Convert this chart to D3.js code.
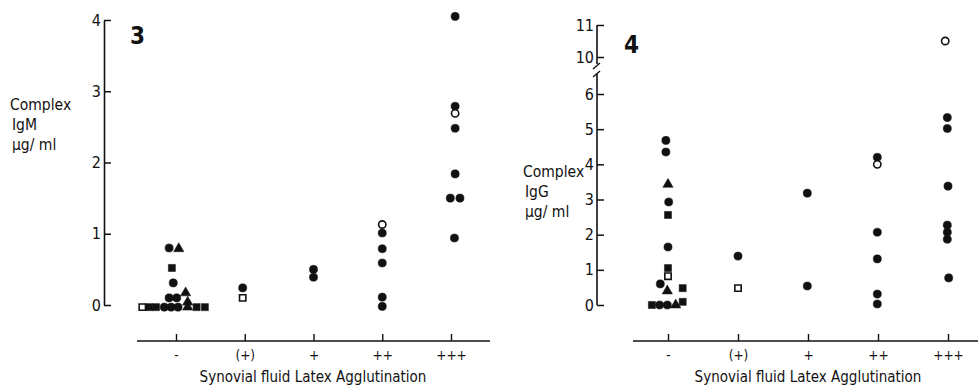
<!DOCTYPE html>
<html><head><meta charset="utf-8">
<script src="https://cdn.jsdelivr.net/npm/d3@7/dist/d3.min.js"></script>
<style>
html,body{margin:0;padding:0;background:#fff;}
svg{display:block;}
text{font-family:"Liberation Sans Narrow","DejaVu Sans Condensed","Liberation Sans",sans-serif;fill:#111;}
</style></head>
<body>
<svg id="chart" width="978" height="386"></svg>
<script>
// ---------- data ----------
const categories = ["-", "(+)", "+", "++", "+++"];
const xTitle = "Synovial fluid Latex Agglutination";

// Panel 3: IgM (category index, value µg/ml, marker, filled, jitter in category steps)
const igmCat   = [0,0,0,0,0,0,0,0, 0,0,0,0,0,0,0,0,0, 1,1, 2,2, 3,3,3,3,3,3, 4,4,4,4,4,4,4,4];
const igmVal   = [0.80,0.79,0.52,0.31,0.10,0.10,0.17,0.04, -0.03,-0.03,-0.03,-0.03,-0.03,-0.03,-0.03,-0.03,-0.03,
                  0.24,0.10, 0.50,0.39, 1.13,1.01,0.79,0.59,0.11,-0.02, 4.05,2.79,2.69,2.48,1.84,1.50,1.50,0.94];
const igmShape = ["circle","triangle","square","circle","circle","circle","triangle","triangle",
                  "square","square","square","circle","circle","circle","triangle","square","square",
                  "circle","square", "circle","circle", "circle","circle","circle","circle","circle","circle",
                  "circle","circle","circle","circle","circle","circle","circle","circle"];
const igmFill  = [1,1,1,1,1,1,1,1, 0,1,1,1,1,1,1,1,1, 1,0, 1,1, 0,1,1,1,1,1, 1,1,0,1,1,1,1,1];
const igmDx    = [-0.10,0.04,-0.06,-0.04,-0.10,0.01,0.14,0.17,
                  -0.49,-0.39,-0.29,-0.17,-0.07,0.03,0.17,0.30,0.42,
                  -0.03,-0.03, 0,0, 0,0,0,0,0,0, 0.06,0.06,0.06,0.06,0.06,-0.01,0.13,0.05];

// Panel 4: IgG
const iggCat   = [0,0,0,0,0,0,0,0,0,0,0,0, 0,0,0,0, 1,1, 2,2, 3,3,3,3,3,3, 4,4,4,4,4,4,4,4];
const iggVal   = [4.68,4.35,3.43,2.93,2.56,1.65,1.05,0.82,0.60,0.40,0.48,0.09,
                  0.0,0.0,0.0,0.0, 1.39,0.48, 3.18,0.54, 4.20,4.00,2.07,1.31,0.31,0.03,
                  10.5,5.33,5.02,3.38,2.27,2.07,1.87,0.77];
const iggShape = ["circle","circle","triangle","circle","square","circle","square","square","circle","triangle","square","square",
                  "square","circle","circle","triangle", "circle","square", "circle","circle",
                  "circle","circle","circle","circle","circle","circle",
                  "circle","circle","circle","circle","circle","circle","circle","circle"];
const iggFill  = [1,1,1,1,1,1,1,0,1,1,1,1, 1,1,1,1, 1,0, 1,1, 1,0,1,1,1,1, 0,1,1,1,1,1,1,1];
const iggDx    = [-0.03,-0.03,0,0.01,0,0,0,0,-0.11,-0.01,0.21,0.21,
                  -0.23,-0.12,-0.01,0.11, 0,0, -0.01,-0.01, -0.01,-0.01,-0.01,-0.01,-0.01,-0.01,
                  -0.04,-0.01,-0.01,0,-0.01,-0.01,-0.01,0.01];

const igmTicks = [0,1,2,3,4];
const iggTicksLow = [0,1,2,3,4,5,6];
const iggTicksHigh = [10,11];

// ---------- drawing ----------
const svg = d3.select("#chart");
svg.append("rect").attr("width",978).attr("height",386).attr("fill","#fff");

const symbolType = {circle:d3.symbolCircle, square:d3.symbolSquare, triangle:d3.symbolTriangle};
const symbolSize = {circle:52, square:50, triangle:46};

function drawPoints(g, x, yFn, cat, val, shape, fill, dx) {
  const step = x.step();
  const pts = cat.map((c,i)=>({c, v:val[i], s:shape[i], f:fill[i], dx:dx[i]}));
  g.selectAll("path.pt").data(pts).join("path")
    .attr("class","pt")
    .attr("transform", d => `translate(${x(categories[d.c]) + d.dx*step},${yFn(d.v)})`)
    .attr("d", d => d3.symbol().type(symbolType[d.s]).size(d.f ? symbolSize[d.s] : symbolSize[d.s]*0.8)())
    .attr("fill", d => d.f ? "#111" : "#fff")
    .attr("stroke", "#111")
    .attr("stroke-width", d => d.f ? 0.5 : 1.6);
}

function drawXAxis(g, x, lineX0, lineX1, yPos) {
  g.append("line").attr("x1",lineX0).attr("x2",lineX1).attr("y1",yPos).attr("y2",yPos)
    .attr("stroke","#111").attr("stroke-width",1.6);
  const ax = g.append("g").attr("transform",`translate(0,${yPos})`)
    .call(d3.axisBottom(x).tickSize(-7).tickPadding(9));
  ax.select(".domain").remove();
  ax.selectAll(".tick line").attr("stroke","#111").attr("stroke-width",1.4);
  ax.selectAll(".tick text").attr("font-size",13.5).attr("font-family",null).attr("fill","#111");
}

function styleY(ax) {
  ax.selectAll(".tick line").attr("stroke","#111").attr("stroke-width",1.5);
  ax.selectAll(".tick text").attr("font-size",16).attr("font-family",null).attr("fill","#111");
}

// ----- Panel 3 -----
const x3 = d3.scalePoint().domain(categories).range([176, 451]);
const y3 = d3.scaleLinear().domain([0,4]).range([305, 20]);
const g3 = svg.append("g");
const ay3 = g3.append("g").attr("transform","translate(104,0)")
  .call(d3.axisLeft(y3).tickValues(igmTicks).tickFormat(d3.format("d")).tickSize(-7).tickSizeOuter(0).tickPadding(3));
ay3.select(".domain").attr("stroke","#111").attr("stroke-width",1.6);
styleY(ay3);
drawXAxis(g3, x3, 137, 490, 341);
drawPoints(g3, x3, y3, igmCat, igmVal, igmShape, igmFill, igmDx);
g3.append("text").attr("x",130).attr("y",44).attr("font-size",24).attr("font-weight","bold")
  .attr("font-family","Liberation Sans, Arial, sans-serif").text("3");
const lab3 = g3.append("text").attr("font-size",15.5);
["Complex","IgM","\u00b5g/ ml"].forEach((t,i)=>lab3.append("tspan").attr("x",i===0?10:12).attr("y",110+i*20).text(t));
g3.append("text").attr("x",313).attr("y",382).attr("text-anchor","middle").attr("font-size",15).text(xTitle);

// ----- Panel 4 -----
const x4 = d3.scalePoint().domain(categories).range([668, 948]);
const y4 = d3.scaleLinear().domain([0,6]).range([305, 94]);
const y4u = d3.scaleLinear().domain([10,11]).range([57, 25]);
const yBroken = v => v >= 8 ? y4u(v) : y4(v);
const g4 = svg.append("g");
const ay4 = g4.append("g").attr("transform","translate(597,0)")
  .call(d3.axisLeft(y4).tickValues(iggTicksLow).tickFormat(d3.format("d")).tickSize(-7).tickSizeOuter(0).tickPadding(3));
ay4.select(".domain").remove();
styleY(ay4);
const ay4u = g4.append("g").attr("transform","translate(597,0)")
  .call(d3.axisLeft(y4u).tickValues(iggTicksHigh).tickFormat(d3.format("d")).tickSize(-7).tickSizeOuter(0).tickPadding(3));
ay4u.select(".domain").remove();
styleY(ay4u);
// broken axis line
g4.append("line").attr("x1",597).attr("x2",597).attr("y1",y4(0)).attr("y2",74).attr("stroke","#111").attr("stroke-width",1.6);
g4.append("line").attr("x1",597).attr("x2",597).attr("y1",y4u(11)).attr("y2",64).attr("stroke","#111").attr("stroke-width",1.6);
g4.append("line").attr("x1",593).attr("x2",600).attr("y1",77).attr("y2",71).attr("stroke","#111").attr("stroke-width",1.4);
g4.append("line").attr("x1",593).attr("x2",600).attr("y1",69).attr("y2",63).attr("stroke","#111").attr("stroke-width",1.4);
drawXAxis(g4, x4, 633, 978, 341);
drawPoints(g4, x4, yBroken, iggCat, iggVal, iggShape, iggFill, iggDx);
g4.append("text").attr("x",624).attr("y",53).attr("font-size",24).attr("font-weight","bold")
  .attr("font-family","Liberation Sans, Arial, sans-serif").text("4");
const lab4 = g4.append("text").attr("font-size",15.5);
["Complex","IgG","\u00b5g/ ml"].forEach((t,i)=>lab4.append("tspan").attr("x",i===0?523:525).attr("y",177+i*20).text(t));
g4.append("text").attr("x",808).attr("y",382).attr("text-anchor","middle").attr("font-size",15).text(xTitle);
</script>
</body></html>
